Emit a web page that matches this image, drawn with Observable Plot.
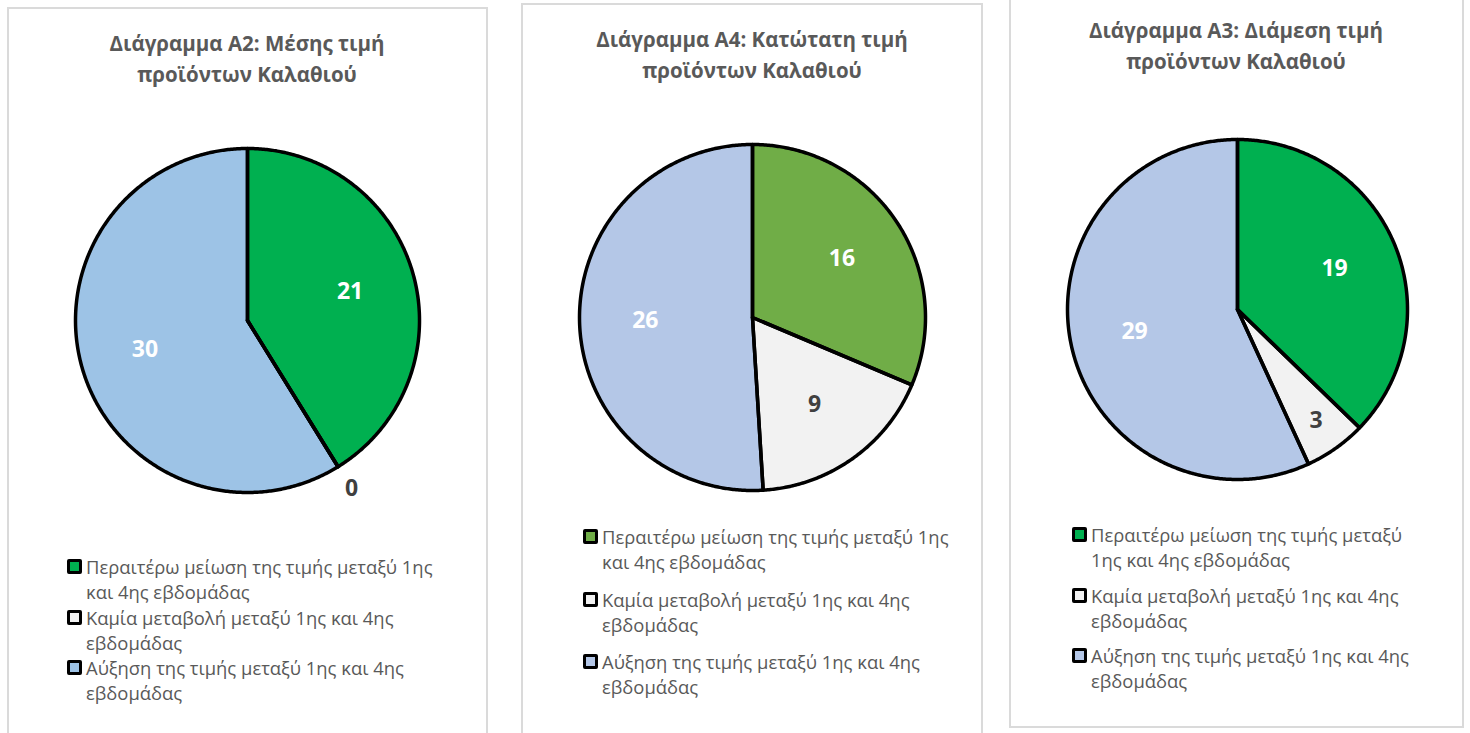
<!DOCTYPE html>
<html><head><meta charset="utf-8">
<script src="https://cdn.jsdelivr.net/npm/d3@7"></script>
<script src="https://cdn.jsdelivr.net/npm/@observablehq/plot@0.6"></script>
<style>
body{margin:0;background:#fff;width:1470px;height:733px;overflow:hidden;position:relative;font-family:"Open Sans",sans-serif;}
.panel{position:absolute;border:2px solid #dadada;background:#fff;box-sizing:border-box}
.title{position:absolute;text-align:center;font-weight:700;color:#595959;font-size:20.5px;line-height:30.5px;transform:translateX(-50%)}
.legend{position:absolute;color:#595959;font-size:18.4px;line-height:25.3px}
.item{display:flex;align-items:flex-start}
.sw{width:9px;height:9px;border:3px solid #000;border-radius:2px;flex:none;margin-top:5px;margin-right:4px}
svg.pie{position:absolute}
</style></head><body>
<script>
// ---- data ----
const categories = [
  "Περαιτέρω μείωση της τιμής μεταξύ 1ης και 4ης εβδομάδας",
  "Καμία μεταβολή μεταξύ 1ης και 4ης εβδομάδας",
  "Αύξηση της τιμής μεταξύ 1ης και 4ης εβδομάδας"
];
const titles = [
  "Διάγραμμα A2: Μέσης τιμή προϊόντων Καλαθιού",
  "Διάγραμμα A4: Κατώτατη τιμή προϊόντων Καλαθιού",
  "Διάγραμμα A3: Διάμεση τιμή προϊόντων Καλαθιού"
];
const valuesA2 = [21, 0, 30];
const valuesA4 = [16, 9, 26];
const valuesA3 = [19, 3, 29];
const colorsA2 = ["#00B050", "#F2F2F2", "#9DC3E6"];
const colorsA4 = ["#70AD47", "#F2F2F2", "#B4C7E7"];
const colorsA3 = ["#00B050", "#F2F2F2", "#B4C7E7"];

// ---- layout (page coordinates) ----
const panels = [
  {title: titles[0], values: valuesA2, colors: colorsA2,
   box: [7, 7, 481, 760], titleX: 247, titleTop: 28, titleW: 340,
   pie: [246.5, 320, 172], legend: [67, 554, 362], gap: 0},
  {title: titles[1], values: valuesA4, colors: colorsA4,
   box: [521, 3, 462, 760], titleX: 752, titleTop: 24, titleW: 340,
   pie: [752, 316.5, 173], legend: [583, 524, 362], gap: 12},
  {title: titles[2], values: valuesA3, colors: colorsA3,
   box: [1009, -5, 455, 733], titleX: 1236, titleTop: 15, titleW: 340,
   pie: [1237, 308.5, 170], legend: [1072, 522, 330], gap: 10}
];

function slices(values) {
  const total = d3.sum(values);
  let a = 0;
  return values.map((v, i) => {
    const a0 = a;
    a += v / total * 2 * Math.PI;
    return {i, v, a0, a1: a};
  });
}
function outline(s) {
  const n = Math.max(2, Math.ceil((s.a1 - s.a0) / (Math.PI / 360)));
  const pts = [{x: 0, y: 0}];
  for (let k = 0; k <= n; k++) {
    const t = s.a0 + (s.a1 - s.a0) * k / n;
    pts.push({x: Math.sin(t), y: Math.cos(t)});
  }
  pts.push({x: 0, y: 0});
  return pts;
}
function labelPos(s) {
  const mid = (s.a0 + s.a1) / 2;
  const span = s.a1 - s.a0;
  const f = s.v === 0 ? 1.15 : span < 0.52 ? 0.8 : 0.62;
  return {x: f * Math.sin(mid), y: f * Math.cos(mid), text: String(s.v), dark: s.i === 1};
}

for (const p of panels) {
  const box = document.createElement("div");
  box.className = "panel";
  Object.assign(box.style, {left: p.box[0] + "px", top: p.box[1] + "px", width: p.box[2] + "px", height: p.box[3] + "px"});
  document.body.appendChild(box);

  const t = document.createElement("div");
  t.className = "title";
  t.textContent = p.title;
  Object.assign(t.style, {left: p.titleX + "px", top: p.titleTop + "px", width: p.titleW + "px"});
  document.body.appendChild(t);

  const [cx, cy, R] = p.pie;
  const m = 40;
  const sl = slices(p.values);
  const labels = sl.map(labelPos);
  const font = {fontSize: 23, fontWeight: "bold", fontFamily: "Open Sans, sans-serif"};
  const svg = Plot.plot({
    width: 2 * R + 2 * m, height: 2 * R + 2 * m, margin: m,
    x: {domain: [-1, 1], axis: null},
    y: {domain: [-1, 1], axis: null},
    style: {background: "transparent", overflow: "visible"},
    marks: [
      ...sl.filter(s => s.v > 0).map(s => Plot.line(outline(s), {x: "x", y: "y", fill: p.colors[s.i], stroke: "none", curve: "linear"})),
      ...sl.map(s => Plot.line(outline(s), {x: "x", y: "y", stroke: "#000", strokeWidth: 3.5, strokeLinejoin: "round", curve: "linear"})),
      Plot.text(labels.filter(d => !d.dark && d.text !== "0"), {x: "x", y: "y", text: "text", fill: "#fff", ...font}),
      Plot.text(labels.filter(d => d.dark || d.text === "0"), {x: "x", y: "y", text: "text", fill: "#404040", ...font})
    ]
  });
  svg.classList.add("pie");
  svg.style.left = (cx - R - m) + "px";
  svg.style.top = (cy - R - m) + "px";
  document.body.appendChild(svg);

  const lg = document.createElement("div");
  lg.className = "legend";
  Object.assign(lg.style, {left: p.legend[0] + "px", top: p.legend[1] + "px"});
  categories.forEach((c, i) => {
    const it = document.createElement("div");
    it.className = "item";
    if (i > 0) it.style.marginTop = p.gap + "px";
    const sw = document.createElement("span");
    sw.className = "sw";
    sw.style.background = p.colors[i];
    const tx = document.createElement("span");
    tx.textContent = c;
    tx.style.width = p.legend[2] + "px";
    it.appendChild(sw); it.appendChild(tx);
    lg.appendChild(it);
  });
  document.body.appendChild(lg);
}
</script>
</body></html>
